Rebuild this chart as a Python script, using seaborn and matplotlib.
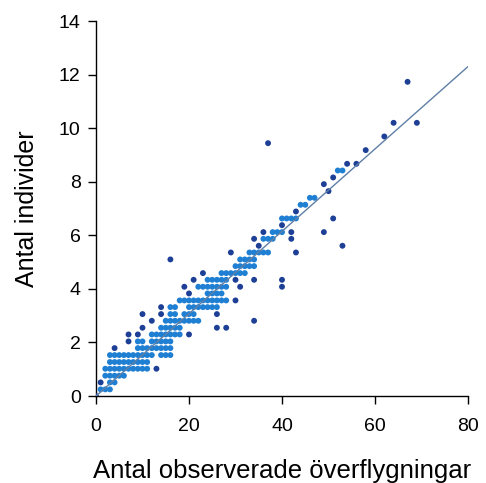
import numpy as np
import pandas as pd
import matplotlib
matplotlib.use("Agg")
import matplotlib.pyplot as plt
import seaborn as sns

# ---- data ----
row_y = [0.0, 0.25, 0.51, 0.76, 1.02, 1.27, 1.53, 1.79, 2.04, 2.30, 2.55, 2.81,
         3.06, 3.32, 3.57, 3.83, 4.08, 4.34, 4.59, 4.85, 5.10, 5.36, 5.61, 5.87,
         6.12, 6.38, 6.63, 6.89, 7.14, 7.40, 7.65, 7.91, 8.16, 8.42, 8.67, 9.18,
         9.44, 9.69, 10.20, 11.73]
row_x = [
    [0],
    [1, 2, 3],
    [1, 3, 4],
    [2, 3, 4, 5, 6],
    [2, 3, 4, 5, 6, 7, 8, 9, 10, 11, 13],
    [3, 4, 5, 6, 7, 8, 9, 10, 11],
    [3, 4, 5, 6, 7, 8, 9, 10, 11, 12, 14, 15, 16],
    [4, 9, 10, 11, 12, 13, 14, 15, 16],
    [7, 9, 10, 12, 13, 14, 15, 16],
    [7, 9, 12, 13, 14, 15, 16, 17, 18, 20],
    [10, 14, 15, 16, 17, 18, 26, 28],
    [12, 15, 16, 17, 18, 19, 20, 21, 22, 34],
    [10, 14, 16, 17, 19, 20, 21, 26],
    [14, 16, 17, 20, 21, 22, 23, 24, 25, 26],
    [18, 19, 20, 21, 22, 23, 24, 25, 26, 27, 28, 30],
    [20, 24, 25, 26, 27],
    [19, 22, 23, 24, 25, 26, 27, 28, 31, 40],
    [21, 24, 25, 26, 27, 28, 30, 34, 40],
    [23, 27, 28, 29, 30, 31, 32],
    [30, 31, 32, 33, 34],
    [16, 31, 32, 33, 34],
    [29, 33, 34, 35, 36, 37, 43],
    [35, 53],
    [34, 36, 37, 38, 42],
    [36, 38, 39, 40, 42, 49],
    [40],
    [40, 41, 42, 43, 51],
    [43],
    [44, 45],
    [46, 47],
    [50],
    [49],
    [51],
    [52, 53],
    [54, 56],
    [58],
    [37],
    [62],
    [64, 69],
    [67],
]
line_x = [0, 80]
line_y = [0, 12.3]

x_ticks = [0, 20, 40, 60, 80]
y_ticks = [0, 2, 4, 6, 8, 10, 12, 14]
x_label = "Antal observerade överflygningar"
y_label = "Antal individer"

# ---- build table ----
recs = []
for yv, xs in zip(row_y, row_x):
    s = set(xs)
    for xv in xs:
        grp = "dense" if ((xv - 1) in s or (xv + 1) in s) else "single"
        recs.append((xv, yv, grp))
df = pd.DataFrame(recs, columns=["x", "y", "grp"])

sns.set_theme(style="ticks")
plt.rcParams["font.family"] = ["Liberation Sans", "DejaVu Sans"]

fig = plt.figure(figsize=(4.86, 4.83), dpi=100)
ax = fig.add_axes([0.1975, 0.18, 0.7655, 0.7765])

sns.scatterplot(data=df, x="x", y="y", hue="grp",
                palette={"dense": "#1f7fd2", "single": "#1d3f95"},
                s=18, linewidth=0, legend=False, ax=ax, zorder=3)
sns.lineplot(x=line_x, y=line_y, color="#5f7fa6", linewidth=1.0, ax=ax, zorder=4)

ax.set_xlim(0, 80)
ax.set_ylim(0, 14)
ax.set_xticks(x_ticks)
ax.set_yticks(y_ticks)
ax.tick_params(axis="both", labelsize=14, length=6, width=1, color="black",
               labelcolor="black", direction="out")
ax.tick_params(axis="x", pad=10)
ax.tick_params(axis="y", pad=5)
for sp in ["top", "right"]:
    ax.spines[sp].set_visible(False)
for sp in ["left", "bottom"]:
    ax.spines[sp].set_color("black")
    ax.spines[sp].set_linewidth(1)
ax.set_xlabel(x_label, fontsize=18.5, color="black", labelpad=17)
ax.set_ylabel(y_label, fontsize=18, color="black", labelpad=14)
for lab in ax.get_xticklabels() + ax.get_yticklabels():
    lab.set_clip_on(False)

fig.savefig("out.png", dpi=100, facecolor="white")
